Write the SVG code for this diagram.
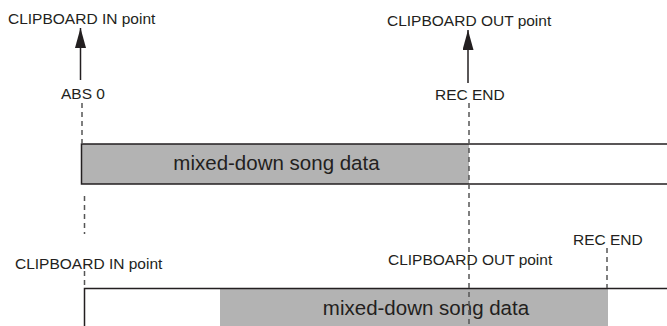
<svg xmlns="http://www.w3.org/2000/svg" width="667" height="326" viewBox="0 0 667 326">
<defs>
<style>
text{font-family:"Liberation Sans",Arial,sans-serif;fill:#231f20}
.lbl{font-size:15.5px}
.big{font-size:20.5px}
.dash{stroke:#555;stroke-width:1.5;stroke-dasharray:5,4;fill:none}
.edge{stroke:#231f20;stroke-width:1.5;fill:none}
.arrow{stroke:#231f20;stroke-width:1.5;fill:none}
.grey{fill:#b3b3b3}
</style>
<marker id="ah" markerWidth="20" markerHeight="11" refX="20" refY="5.5" orient="auto" markerUnits="userSpaceOnUse" viewBox="0 0 20 11">
<path d="M20,5.5 L0,0 L0,11 Z" fill="#231f20"/>
</marker>
</defs>
<g id="upper-bar">
<rect class="grey" x="81.5" y="144" width="387.5" height="40"/>
<path class="edge" d="M667,144 H81.5 V184 H667"/>
<text class="big" x="276.5" y="170" text-anchor="middle">mixed-down song data</text>
</g>
<g id="lower-bar">
<rect class="grey" x="220" y="289" width="388" height="37"/>
<path class="edge" d="M667,288.5 H84.5 V326"/>
<text class="big" x="426" y="315" text-anchor="middle">mixed-down song data</text>
</g>
<g id="top-in">
<text class="lbl" x="8" y="24">CLIPBOARD IN point</text>
<text class="lbl" x="61" y="99">ABS 0</text>
</g>
<g id="top-out">
<text class="lbl" x="387" y="26">CLIPBOARD OUT point</text>
<text class="lbl" x="435" y="100">REC END</text>
</g>
<g id="bottom-labels">
<text class="lbl" x="15" y="269">CLIPBOARD IN point</text>
<text class="lbl" x="388" y="265">CLIPBOARD OUT point</text>
<text class="lbl" x="573" y="245">REC END</text>
</g>
<g id="connectors">
<path class="arrow" d="M80.5,80 V28" marker-end="url(#ah)"/>
<path class="arrow" d="M468,83 V30" marker-end="url(#ah)"/>
<path class="dash" d="M82,103 V143"/>
<path class="dash" d="M84.5,196 V234"/>
<path class="dash" d="M84.5,271 V288"/>
<path class="dash" d="M469,103 V326"/>
<path class="dash" d="M607,248 V288"/>
</g>
</svg>
